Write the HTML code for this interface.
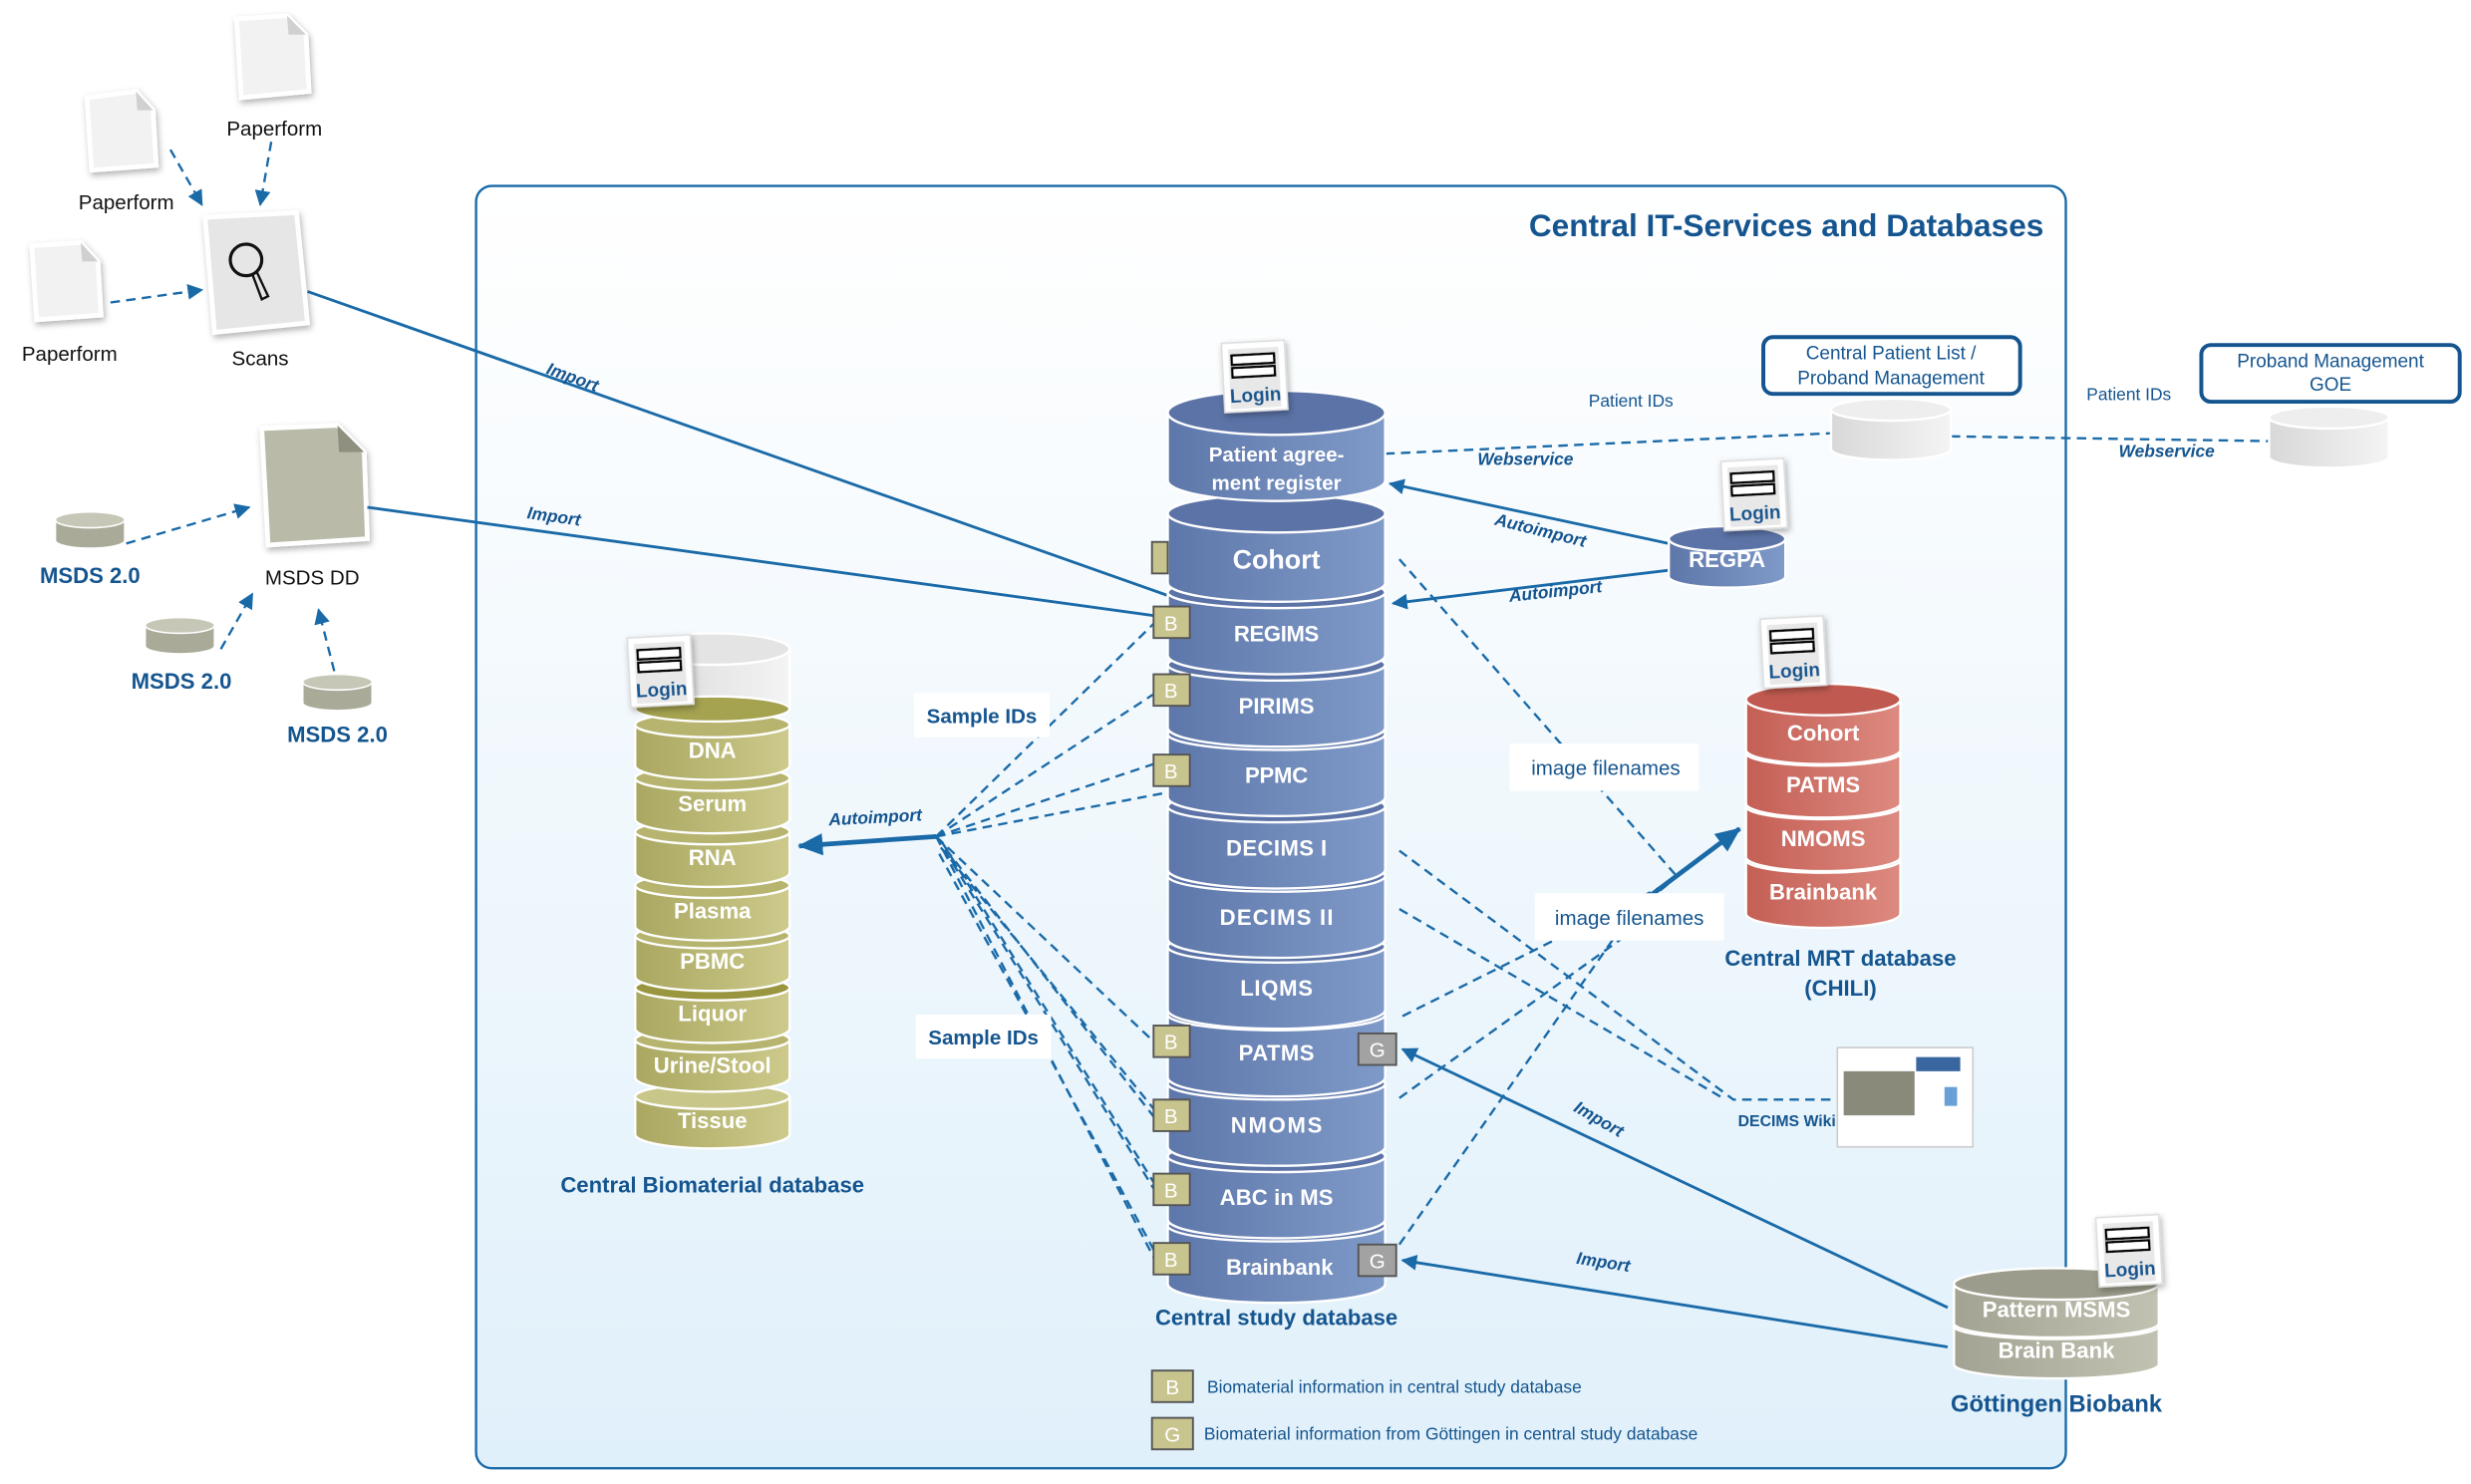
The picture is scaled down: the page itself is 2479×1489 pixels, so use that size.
<!DOCTYPE html>
<html><head><meta charset="utf-8"><style>
html,body{margin:0;padding:0;background:#fff;}
svg{display:block;}
text{font-family:"Liberation Sans",sans-serif;}
.w{fill:#fff;font-size:15px;text-anchor:middle;font-weight:bold;}
.wb{fill:#fff;font-size:14px;text-anchor:middle;font-weight:bold;}
.bl{fill:#15558f;font-weight:bold;text-anchor:middle;}
.it{fill:#15558f;font-style:italic;font-size:11px;font-weight:bold;}
.k{fill:#111;font-size:13px;text-anchor:middle;}
.dash{stroke:#1a6aa8;stroke-width:1.5;stroke-dasharray:6 4;fill:none;}
.sol{stroke:#1a6aa8;stroke-width:1.8;fill:none;}
</style></head><body>
<svg width="2479" height="1489" viewBox="0 0 1568 942" xmlns="http://www.w3.org/2000/svg">
<defs>
<linearGradient id="bg" x1="0" y1="0" x2="0" y2="1"><stop offset="0" stop-color="#ffffff"/><stop offset="1" stop-color="#e0f0fa"/></linearGradient>
<linearGradient id="blu" x1="0" y1="0" x2="1" y2="0"><stop offset="0" stop-color="#5e77aa"/><stop offset="1" stop-color="#7f9ac8"/></linearGradient>
<linearGradient id="oli" x1="0" y1="0" x2="1" y2="0"><stop offset="0" stop-color="#a9a760"/><stop offset="1" stop-color="#cdca8c"/></linearGradient>
<linearGradient id="red" x1="0" y1="0" x2="1" y2="0"><stop offset="0" stop-color="#c45f55"/><stop offset="1" stop-color="#dd8a80"/></linearGradient>
<linearGradient id="gry" x1="0" y1="0" x2="1" y2="0"><stop offset="0" stop-color="#a3a393"/><stop offset="1" stop-color="#c2c2b2"/></linearGradient>
<linearGradient id="lg" x1="0" y1="0" x2="1" y2="0"><stop offset="0" stop-color="#d8d8d8"/><stop offset="1" stop-color="#f4f4f4"/></linearGradient>
<filter id="sh" x="-30%" y="-30%" width="160%" height="160%"><feDropShadow dx="1" dy="2" stdDeviation="2" flood-color="#000" flood-opacity="0.3"/></filter>
<marker id="ar" markerWidth="10" markerHeight="10" refX="9" refY="5" orient="auto" markerUnits="userSpaceOnUse"><path d="M0,0 L10,5 L0,10 Z" fill="#1a6aa8"/></marker>
<marker id="ar2" markerWidth="16" markerHeight="14" refX="15" refY="7" orient="auto" markerUnits="userSpaceOnUse"><path d="M0,0 L16,7 L0,14 Z" fill="#1a6aa8"/></marker>
</defs>

<rect x="302" y="118" width="1009" height="814" rx="10" fill="url(#bg)" stroke="#1a6aa8" stroke-width="1.5"/>
<text x="1297" y="150" class="bl" style="font-size:20px;text-anchor:end">Central IT-Services and Databases</text>

<!-- left docs -->
<g stroke="#fff" stroke-width="3" filter="url(#sh)">
<path d="M150,12 L182,10 L194,22 L196,58 L153,62 Z" fill="#f2f2f2"/>
<path d="M55,62 L86,58 L97,70 L99,105 L58,108 Z" fill="#f2f2f2"/>
<path d="M20,156 L51,154 L62,166 L64,200 L23,203 Z" fill="#f2f2f2"/>
<path d="M130,138 L188,135 L195,205 L136,211 Z" fill="#e6e6e6"/>
<path d="M166,272 L214,270 L231,287 L233,342 L170,346 Z" fill="#b9baa8"/>
</g>
<g fill="#d0d0d0"><path d="M182,10 L183,22 L194,22 Z"/><path d="M86,58 L87,70 L97,70 Z"/><path d="M51,154 L52,166 L62,166 Z"/><path d="M214,270 L215,287 L231,287 Z" fill="#8f907f"/></g>
<circle cx="156" cy="165" r="10" fill="none" stroke="#111" stroke-width="2"/>
<path d="M160,174 L166,190 L170,188 L163,173" fill="none" stroke="#111" stroke-width="1.5"/>
<text x="174" y="86" class="k">Paperform</text>
<text x="80" y="133" class="k">Paperform</text>
<text x="44" y="229" class="k">Paperform</text>
<text x="165" y="232" class="k">Scans</text>
<text x="198" y="371" class="k">MSDS DD</text>
<path class="dash" d="M108,95 L128,130" marker-end="url(#ar)"/>
<path class="dash" d="M172,90 L165,130" marker-end="url(#ar)"/>
<path class="dash" d="M70,192 L128,184" marker-end="url(#ar)"/>
<path class="dash" d="M80,345 L158,322" marker-end="url(#ar)"/>
<path class="dash" d="M140,412 L160,377" marker-end="url(#ar)"/>
<path class="dash" d="M212,426 L202,387" marker-end="url(#ar)"/>
<g fill="#a9aa98" stroke="#fff" stroke-width="1">
<path d="M35,330 L35,343 A22,5 0 0 0 79,343 L79,330 Z"/><ellipse cx="57" cy="330" rx="22" ry="5" fill="#c6c7b6"/>
<path d="M92,397 L92,410 A22,5 0 0 0 136,410 L136,397 Z"/><ellipse cx="114" cy="397" rx="22" ry="5" fill="#c6c7b6"/>
<path d="M192,433 L192,446 A22,5 0 0 0 236,446 L236,433 Z"/><ellipse cx="214" cy="433" rx="22" ry="5" fill="#c6c7b6"/>
</g>
<text x="57" y="370" class="bl" style="font-size:14px">MSDS 2.0</text>
<text x="115" y="437" class="bl" style="font-size:14px">MSDS 2.0</text>
<text x="214" y="471" class="bl" style="font-size:14px">MSDS 2.0</text>

<path class="sol" d="M195,185 L741,378"/>
<path class="sol" d="M233,322 L741,392"/>
<text class="it" transform="translate(346,237) rotate(20)">Import</text>
<text class="it" transform="translate(334,329) rotate(8)">Import</text>

<g class="dash">
<path d="M594,531 L733,395"/><path d="M594,531 L733,440"/><path d="M594,531 L735,484"/><path d="M594,531 L741,503"/>
<path d="M594,531 L733,662"/><path d="M594,531 L733,710"/><path d="M594,531 L733,756"/><path d="M594,531 L733,800"/>
<path d="M597,538 L733,705"/><path d="M596,542 L733,795"/><path d="M598,535 L733,752"/>
<path d="M888,355 L1063,555"/>
<path d="M888,540 L1100,698 L1168,698"/><path d="M888,577 L1095,698"/>
<path d="M890,645 L1060,560"/><path d="M888,697 L1040,588"/><path d="M888,790 L1035,580 L1060,560"/>
<path d="M879,288 L1162,275"/><path d="M1238,277 L1440,280"/>
</g>
<path d="M594,531 L507,537" stroke="#1a6aa8" stroke-width="3" fill="none" marker-end="url(#ar2)"/>
<text class="it" x="526" y="524" transform="rotate(-3 526 524)">Autoimport</text>
<path d="M1048,568 L1104,526" stroke="#1a6aa8" stroke-width="3" fill="none" marker-end="url(#ar2)"/>
<rect x="580" y="440" width="86" height="28" fill="#fff"/><text x="623" y="459" class="bl" style="font-size:13px">Sample IDs</text>
<rect x="581" y="644" width="86" height="28" fill="#fff"/><text x="624" y="663" class="bl" style="font-size:13px">Sample IDs</text>
<rect x="958" y="472" width="120" height="30" fill="#fff"/><text x="1019" y="492" class="bl" style="font-size:13px;font-weight:normal">image filenames</text>
<rect x="974" y="567" width="120" height="30" fill="#fff"/><text x="1034" y="587" class="bl" style="font-size:13px;font-weight:normal">image filenames</text>

<path class="sol" d="M1059,345 L882,307" marker-end="url(#ar)"/>
<path class="sol" d="M1059,362 L884,383" marker-end="url(#ar)"/>
<text class="it" transform="translate(948,333) rotate(14)">Autoimport</text>
<text class="it" transform="translate(958,382) rotate(-6)">Autoimport</text>
<path class="sol" d="M1236,830 L890,666" marker-end="url(#ar)"/>
<path class="sol" d="M1236,855 L890,800" marker-end="url(#ar)"/>
<text class="it" transform="translate(998,705) rotate(30)">Import</text>
<text class="it" transform="translate(1000,802) rotate(9)">Import</text>

<g stroke="#fff" stroke-width="1.5">
<path d="M741,778 L741,815 A69,12 0 0 0 879,815 L879,778 Z" fill="url(#blu)"/><ellipse cx="810" cy="778" rx="69" ry="10" fill="#5b73a7"/>
<path d="M741,734 L741,774 A69,12 0 0 0 879,774 L879,734 Z" fill="url(#blu)"/><ellipse cx="810" cy="734" rx="69" ry="10" fill="#5b73a7"/>
<path d="M741,688 L741,728 A69,12 0 0 0 879,728 L879,688 Z" fill="url(#blu)"/><ellipse cx="810" cy="688" rx="69" ry="10" fill="#5b73a7"/>
<path d="M741,644 L741,684 A69,12 0 0 0 879,684 L879,644 Z" fill="url(#blu)"/><ellipse cx="810" cy="644" rx="69" ry="10" fill="#5b73a7"/>
<path d="M741,601 L741,641 A69,12 0 0 0 879,641 L879,601 Z" fill="url(#blu)"/><ellipse cx="810" cy="601" rx="69" ry="10" fill="#5b73a7"/>
<path d="M741,556 L741,596 A69,12 0 0 0 879,596 L879,556 Z" fill="url(#blu)"/><ellipse cx="810" cy="556" rx="69" ry="10" fill="#5b73a7"/>
<path d="M741,512 L741,552 A69,12 0 0 0 879,552 L879,512 Z" fill="url(#blu)"/><ellipse cx="810" cy="512" rx="69" ry="10" fill="#5b73a7"/>
<path d="M741,466 L741,506 A69,12 0 0 0 879,506 L879,466 Z" fill="url(#blu)"/><ellipse cx="810" cy="466" rx="69" ry="10" fill="#5b73a7"/>
<path d="M741,422 L741,462 A69,12 0 0 0 879,462 L879,422 Z" fill="url(#blu)"/><ellipse cx="810" cy="422" rx="69" ry="10" fill="#5b73a7"/>
<path d="M741,376 L741,416 A69,12 0 0 0 879,416 L879,376 Z" fill="url(#blu)"/><ellipse cx="810" cy="376" rx="69" ry="10" fill="#5b73a7"/>
<path d="M741,326 L741,370 A69,12 0 0 0 879,370 L879,326 Z" fill="url(#blu)"/><ellipse cx="810" cy="326" rx="69" ry="12" fill="#5b73a7"/>
<path d="M741,262 L741,305 A69,13 0 0 0 879,305 L879,262 Z" fill="url(#blu)"/><ellipse cx="810" cy="262" rx="69" ry="14" fill="#5b73a7"/>
</g>
<g style="font-stretch:condensed">
<text x="810" y="361" class="w" style="font-size:17px">Cohort</text>
<text x="810" y="407" class="wb" textLength="54">REGIMS</text>
<text x="810" y="453" class="wb" textLength="48">PIRIMS</text>
<text x="810" y="497" class="wb" textLength="40">PPMC</text>
<text x="810" y="543" class="wb" textLength="64">DECIMS I</text>
<text x="810" y="587" class="wb" textLength="72">DECIMS II</text>
<text x="810" y="632" class="wb" textLength="46">LIQMS</text>
<text x="810" y="673" class="wb" textLength="48">PATMS</text>
<text x="810" y="719" class="wb" textLength="58">NMOMS</text>
<text x="810" y="765" class="wb" textLength="72">ABC in MS</text>
<text x="812" y="809" class="wb" textLength="68">Brainbank</text>
</g>
<text x="810" y="293" class="wb" style="font-size:13px">Patient agree-</text>
<text x="810" y="311" class="wb" style="font-size:13px">ment register</text>
<text x="810" y="841" class="bl" style="font-size:14px">Central study database</text>
<g stroke="#555" stroke-width="1.2" fill="#c8c48e">
<rect x="731" y="344" width="10" height="20"/>
<rect x="732" y="385" width="23" height="20"/><rect x="732" y="428" width="23" height="20"/><rect x="732" y="479" width="23" height="20"/>
<rect x="732" y="651" width="23" height="20"/><rect x="732" y="698" width="23" height="20"/><rect x="732" y="745" width="23" height="20"/><rect x="732" y="789" width="23" height="20"/>
<rect x="731" y="870" width="26" height="20"/>
<rect x="862" y="656" width="24" height="20" fill="#a2a2a2"/><rect x="862" y="790" width="24" height="20" fill="#a2a2a2"/>
<rect x="731" y="900" width="26" height="20" fill="#c8c48e"/>
</g>
<g class="w" style="font-size:13px;font-weight:normal">
<text x="743" y="400">B</text><text x="743" y="443">B</text><text x="743" y="494">B</text><text x="743" y="666">B</text><text x="743" y="713">B</text><text x="743" y="760">B</text><text x="743" y="804">B</text>
<text x="874" y="671">G</text><text x="874" y="805">G</text><text x="744" y="885">B</text><text x="744" y="915">G</text>
</g>
<text x="766" y="884" class="it" style="font-style:normal;font-weight:normal">Biomaterial information in central study database</text>
<text x="764" y="914" class="it" style="font-style:normal;font-weight:normal">Biomaterial information from Göttingen in central study database</text>

<!-- Biomaterial db -->
<g stroke="#fff" stroke-width="1.5">
<path d="M403,696 L403,720 A49,9 0 0 0 501,720 L501,696 Z" fill="url(#oli)"/><ellipse cx="452" cy="696" rx="49" ry="8" fill="#c9c68a"/>
<path d="M403,660 L403,684 A49,9 0 0 0 501,684 L501,660 Z" fill="url(#oli)"/><ellipse cx="452" cy="660" rx="49" ry="8" fill="#b7b470"/>
<path d="M403,627 L403,653 A49,9 0 0 0 501,653 L501,627 Z" fill="url(#oli)"/><ellipse cx="452" cy="627" rx="49" ry="8" fill="#9a9640"/>
<path d="M403,594 L403,620 A49,9 0 0 0 501,620 L501,594 Z" fill="url(#oli)"/><ellipse cx="452" cy="594" rx="49" ry="8" fill="#b7b470"/>
<path d="M403,562 L403,588 A49,9 0 0 0 501,588 L501,562 Z" fill="url(#oli)"/><ellipse cx="452" cy="562" rx="49" ry="8" fill="#b7b470"/>
<path d="M403,528 L403,554 A49,9 0 0 0 501,554 L501,528 Z" fill="url(#oli)"/><ellipse cx="452" cy="528" rx="49" ry="8" fill="#b7b470"/>
<path d="M403,494 L403,520 A49,9 0 0 0 501,520 L501,494 Z" fill="url(#oli)"/><ellipse cx="452" cy="494" rx="49" ry="8" fill="#b7b470"/>
<path d="M403,460 L403,486 A49,9 0 0 0 501,486 L501,460 Z" fill="url(#oli)"/><ellipse cx="452" cy="460" rx="49" ry="8" fill="#b7b470"/>
<path d="M403,412 L403,448 A49,9 0 0 0 501,448 L501,412 Z" fill="url(#lg)"/><ellipse cx="452" cy="412" rx="49" ry="10" fill="#e4e4e4"/>
<ellipse cx="452" cy="450" rx="49" ry="8" fill="#a5a250"/>
</g>
<g class="wb"><text x="452" y="481">DNA</text><text x="452" y="515">Serum</text><text x="452" y="549">RNA</text><text x="452" y="583">Plasma</text><text x="452" y="615">PBMC</text><text x="452" y="648">Liquor</text><text x="452" y="681">Urine/Stool</text><text x="452" y="716">Tissue</text></g>
<text x="452" y="757" class="bl" style="font-size:14px">Central Biomaterial database</text>

<!-- MRT db -->
<g stroke="#fff" stroke-width="1.5">
<path d="M1108,546 L1108,580 A49,9 0 0 0 1206,580 L1206,546 Z" fill="url(#red)"/><ellipse cx="1157" cy="546" rx="49" ry="8" fill="#c05a50"/>
<path d="M1108,512 L1108,544 A49,9 0 0 0 1206,544 L1206,512 Z" fill="url(#red)"/><ellipse cx="1157" cy="512" rx="49" ry="8" fill="#c05a50"/>
<path d="M1108,478 L1108,510 A49,9 0 0 0 1206,510 L1206,478 Z" fill="url(#red)"/><ellipse cx="1157" cy="478" rx="49" ry="8" fill="#c05a50"/>
<path d="M1108,444 L1108,476 A49,9 0 0 0 1206,476 L1206,444 Z" fill="url(#red)"/><ellipse cx="1157" cy="444" rx="49" ry="10" fill="#c05a50"/>
</g>
<g class="wb"><text x="1157" y="470">Cohort</text><text x="1157" y="503">PATMS</text><text x="1157" y="537">NMOMS</text><text x="1157" y="571">Brainbank</text></g>
<text x="1168" y="613" class="bl" style="font-size:14px">Central MRT database</text>
<text x="1168" y="632" class="bl" style="font-size:14px">(CHILI)</text>

<g stroke="#fff" stroke-width="1.5"><path d="M1059,342 L1059,366 A37,7 0 0 0 1133,366 L1133,342 Z" fill="url(#blu)"/><ellipse cx="1096" cy="342" rx="37" ry="8" fill="#5b73a7"/></g>
<text x="1096" y="360" class="wb">REGPA</text>

<rect x="1119" y="214" width="163" height="36" rx="6" fill="#fff" stroke="#15558f" stroke-width="2.5"/>
<text x="1200" y="228" class="bl" style="font-size:12px;font-weight:normal">Central Patient List /</text>
<text x="1200" y="244" class="bl" style="font-size:12px;font-weight:normal">Proband Management</text>
<rect x="1397" y="219" width="164" height="36" rx="6" fill="#fff" stroke="#15558f" stroke-width="2.5"/>
<text x="1479" y="233" class="bl" style="font-size:12px;font-weight:normal">Proband Management</text>
<text x="1479" y="248" class="bl" style="font-size:12px;font-weight:normal">GOE</text>
<g stroke="#fff" stroke-width="1.5">
<path d="M1162,260 L1162,285 A38,7 0 0 0 1238,285 L1238,260 Z" fill="url(#lg)"/><ellipse cx="1200" cy="260" rx="38" ry="7" fill="#eee"/>
<path d="M1440,265 L1440,290 A38,7 0 0 0 1516,290 L1516,265 Z" fill="url(#lg)"/><ellipse cx="1478" cy="265" rx="38" ry="7" fill="#eee"/>
</g>
<text x="1035" y="258" class="it" style="font-style:normal;text-anchor:middle;font-weight:normal">Patient IDs</text>
<text x="1351" y="254" class="it" style="font-style:normal;text-anchor:middle;font-weight:normal">Patient IDs</text>
<text x="968" y="295" class="it" style="text-anchor:middle">Webservice</text>
<text x="1375" y="290" class="it" style="text-anchor:middle">Webservice</text>

<g stroke="#fff" stroke-width="1.5">
<path d="M1240,842 L1240,866 A65,9 0 0 0 1370,866 L1370,842 Z" fill="url(#gry)"/><ellipse cx="1305" cy="842" rx="65" ry="8" fill="#9c9c8c"/>
<path d="M1240,815 L1240,840 A65,9 0 0 0 1370,840 L1370,815 Z" fill="url(#gry)"/><ellipse cx="1305" cy="815" rx="65" ry="10" fill="#9c9c8c"/>
</g>
<text x="1305" y="836" class="wb">Pattern MSMS</text>
<text x="1305" y="862" class="wb">Brain Bank</text>
<text x="1305" y="896" class="bl" style="font-size:15px">Göttingen Biobank</text>

<rect x="1166" y="665" width="86" height="63" fill="#fff" stroke="#ccc"/>
<rect x="1170" y="680" width="45" height="28" fill="#8a8a7a"/>
<rect x="1216" y="671" width="28" height="9" fill="#3a66a0"/>
<rect x="1234" y="690" width="8" height="12" fill="#6aa0d8"/>
<text x="1134" y="715" class="it" style="font-style:normal;text-anchor:middle;font-size:10px">DECIMS Wiki</text>

<g>
<g transform="translate(775,218) rotate(-3)" filter="url(#sh)"><rect width="40" height="44" fill="#fff" stroke="#ddd"/><rect x="4" y="4" width="32" height="38" fill="#e8e8e8"/><rect x="6" y="8" width="27" height="6" fill="#fff" stroke="#000" stroke-width="1.5"/><rect x="6" y="16" width="27" height="6" fill="#fff" stroke="#000" stroke-width="1.5"/><text x="20" y="38" class="bl" style="font-size:12px">Login</text></g>
<g transform="translate(1092,293) rotate(-3)" filter="url(#sh)"><rect width="40" height="44" fill="#fff" stroke="#ddd"/><rect x="4" y="4" width="32" height="38" fill="#e8e8e8"/><rect x="6" y="8" width="27" height="6" fill="#fff" stroke="#000" stroke-width="1.5"/><rect x="6" y="16" width="27" height="6" fill="#fff" stroke="#000" stroke-width="1.5"/><text x="20" y="38" class="bl" style="font-size:12px">Login</text></g>
<g transform="translate(1117,393) rotate(-3)" filter="url(#sh)"><rect width="40" height="44" fill="#fff" stroke="#ddd"/><rect x="4" y="4" width="32" height="38" fill="#e8e8e8"/><rect x="6" y="8" width="27" height="6" fill="#fff" stroke="#000" stroke-width="1.5"/><rect x="6" y="16" width="27" height="6" fill="#fff" stroke="#000" stroke-width="1.5"/><text x="20" y="38" class="bl" style="font-size:12px">Login</text></g>
<g transform="translate(398,405) rotate(-3)" filter="url(#sh)"><rect width="40" height="44" fill="#fff" stroke="#ddd"/><rect x="4" y="4" width="32" height="38" fill="#e8e8e8"/><rect x="6" y="8" width="27" height="6" fill="#fff" stroke="#000" stroke-width="1.5"/><rect x="6" y="16" width="27" height="6" fill="#fff" stroke="#000" stroke-width="1.5"/><text x="20" y="38" class="bl" style="font-size:12px">Login</text></g>
<g transform="translate(1330,773) rotate(-3)" filter="url(#sh)"><rect width="40" height="44" fill="#fff" stroke="#ddd"/><rect x="4" y="4" width="32" height="38" fill="#e8e8e8"/><rect x="6" y="8" width="27" height="6" fill="#fff" stroke="#000" stroke-width="1.5"/><rect x="6" y="16" width="27" height="6" fill="#fff" stroke="#000" stroke-width="1.5"/><text x="20" y="38" class="bl" style="font-size:12px">Login</text></g>
</g>
</svg>
</body></html>
